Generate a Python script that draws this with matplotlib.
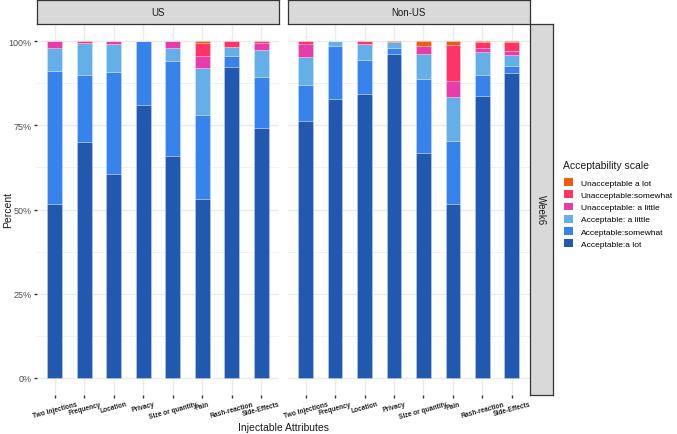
import matplotlib
matplotlib.use("Agg")
import matplotlib.pyplot as plt
from matplotlib.patches import Patch
import numpy as np

plt.rcParams['font.family'] = ['Liberation Sans', 'DejaVu Sans']

attributes = ["Two Injections", "Frequency", "Location", "Privacy",
              "Size or quantity", "Pain", "Rash-reaction", "Side-Effects"]

# stacking order, bottom to top
levels = ["Acceptable:a lot", "Acceptable:somewhat", "Acceptable: a little",
          "Unacceptable: a little", "Unacceptable:somewhat", "Unacceptable a lot"]
colors = ["#2259B0", "#3782EB", "#65AFE8", "#E83CAA", "#FF3366", "#F05A0A"]

# percent per level, one value per attribute
us = {
    "Acceptable:a lot":       [51.6, 70.1, 60.5, 81.1, 65.8, 53.1, 92.4, 74.2],
    "Acceptable:somewhat":    [39.6, 19.8, 30.3, 18.9, 28.3, 24.9, 3.1, 15.1],
    "Acceptable: a little":   [6.8, 9.6, 8.3, 0.0, 3.9, 13.9, 2.8, 8.1],
    "Unacceptable: a little": [2.0, 0.0, 0.9, 0.0, 2.0, 3.6, 0.0, 2.1],
    "Unacceptable:somewhat":  [0.0, 0.5, 0.0, 0.0, 0.0, 3.9, 1.7, 0.5],
    "Unacceptable a lot":     [0.0, 0.0, 0.0, 0.0, 0.0, 0.6, 0.0, 0.0],
}
non_us = {
    "Acceptable:a lot":       [76.3, 82.7, 84.3, 96.1, 66.8, 51.6, 83.6, 90.4],
    "Acceptable:somewhat":    [10.6, 15.8, 10.1, 1.8, 22.0, 18.8, 6.3, 2.1],
    "Acceptable: a little":   [8.4, 1.5, 4.7, 1.7, 7.3, 13.0, 6.8, 3.4],
    "Unacceptable: a little": [3.8, 0.0, 0.0, 0.0, 2.6, 4.7, 1.2, 1.1],
    "Unacceptable:somewhat":  [0.9, 0.0, 0.9, 0.0, 0.0, 10.9, 1.8, 2.8],
    "Unacceptable a lot":     [0.0, 0.0, 0.0, 0.4, 1.3, 1.0, 0.3, 0.2],
}
panels = ["US", "Non-US"]
row_label = "Week6"

W, H = 677, 435
fig = plt.figure(figsize=(W / 100, H / 100), dpi=100)


def px(x0, y0, x1, y1):
    return [x0 / W, 1 - y1 / H, (x1 - x0) / W, (y1 - y0) / H]


panel_x = [(37, 279), (288, 529.5)]
top, bottom = 25.3, 395.8
strip_col = "#D9D9D9"
edge_col = "#333333"
x = np.arange(1, len(attributes) + 1)

for i, (name, data) in enumerate(zip(panels, [us, non_us])):
    x0, x1 = panel_x[i]
    ax = fig.add_axes(px(x0, top, x1, bottom))
    base = np.zeros(len(attributes))
    for lev, col in zip(levels, colors):
        vals = np.array(data[lev])
        ax.bar(x, vals, bottom=base, width=0.5, color=col,
               edgecolor=(1, 1, 1, 0.35), linewidth=0.5, zorder=3)
        base += vals
    ax.set_xlim(0.4, len(attributes) + 0.6)
    ax.set_ylim(-5, 105)
    ax.set_yticks([0, 25, 50, 75, 100])
    ax.set_yticks([12.5, 37.5, 62.5, 87.5], minor=True)
    ax.set_xticks(x)
    ax.set_xticklabels(attributes, rotation=15, ha="center", va="top",
                       fontsize=4.8, fontweight="bold", color="#222222")
    ax.grid(True, which="major", color="#EBEBEB", linewidth=1.0, zorder=0)
    ax.grid(True, which="minor", axis="y", color="#EBEBEB", linewidth=0.5, zorder=0)
    for s in ax.spines.values():
        s.set_visible(False)
    ax.tick_params(axis="both", which="major", length=2.5, width=1.0,
                   color="#333333", pad=1.5)
    ax.tick_params(axis="both", which="minor", length=0)
    ax.tick_params(axis="x", pad=1.5)
    if i == 0:
        ax.set_yticklabels(["0%", "25%", "50%", "75%", "100%"],
                           fontsize=6.5, color="#4D4D4D")
    else:
        ax.set_yticklabels([])
        ax.tick_params(axis="y", length=0)

    # facet strip on top
    sax = fig.add_axes(px(x0, 1.2, x1, 24.7))
    sax.set_xticks([])
    sax.set_yticks([])
    sax.set_facecolor(strip_col)
    for s in sax.spines.values():
        s.set_color(edge_col)
        s.set_linewidth(0.9)
    sax.text(0.5, 0.5, name, ha="center", va="center", fontsize=7,
             color="#1A1A1A", transform=sax.transAxes)

# facet strip on right
rax = fig.add_axes(px(529.5, top, 553, bottom))
rax.set_xticks([])
rax.set_yticks([])
rax.set_facecolor(strip_col)
for s in rax.spines.values():
    s.set_color(edge_col)
    s.set_linewidth(0.9)
rax.text(0.5, 0.5, row_label, ha="center", va="center", rotation=-90,
         fontsize=7, color="#1A1A1A", transform=rax.transAxes)

fig.text(283 / W, 1 - 428 / H, "Injectable Attributes", ha="center",
         va="center", fontsize=7.5, color="#1A1A1A")
fig.text(8 / W, 1 - 210 / H, "Percent", ha="center", va="center",
         rotation=90, fontsize=7.5, color="#1A1A1A")

# legend
fig.text(563 / W, 1 - 166 / H, "Acceptability scale", ha="left",
         va="center", fontsize=7.5, color="#1A1A1A")
handles = [Patch(facecolor=c, edgecolor="none") for c in colors[::-1]]
fig.legend(handles, levels[::-1], loc="upper left",
           bbox_to_anchor=(560.5 / W, 1 - 176 / H), frameon=False,
           fontsize=6.0, handlelength=1.08, handleheight=1.08,
           labelspacing=0.4, handletextpad=0.95, borderaxespad=0)

fig.savefig("out.png", dpi=100)
